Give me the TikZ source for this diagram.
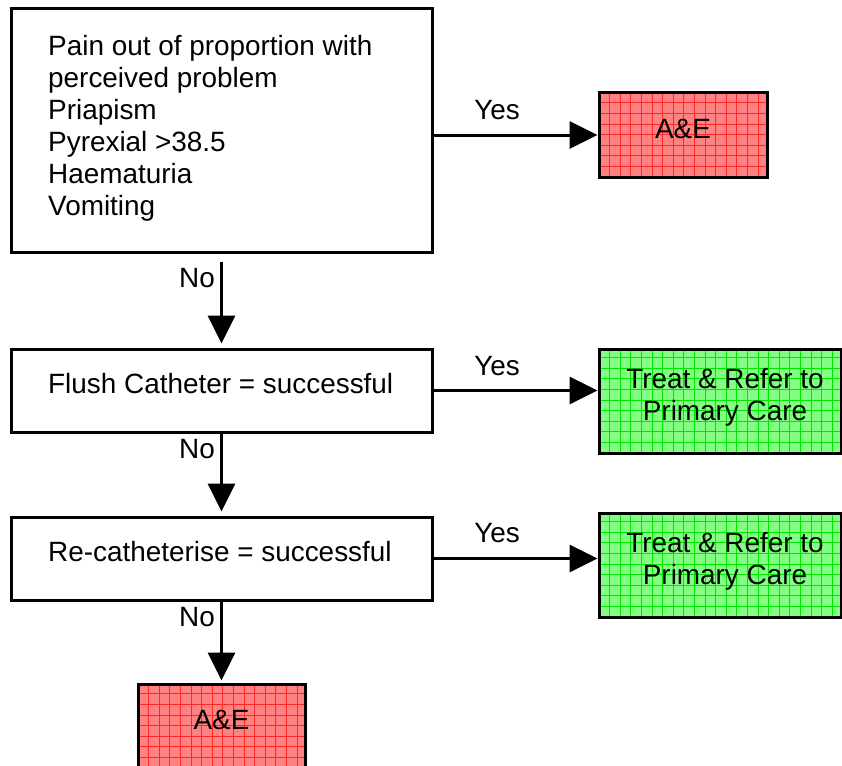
\documentclass[tikz,border=0pt]{standalone}
\usepackage{fontspec}
\setmainfont{Liberation Sans}
\usetikzlibrary{arrows.meta}
\definecolor{redfill}{RGB}{255,130,130}
\definecolor{redgrid}{RGB}{255,40,40}
\definecolor{greenfill}{RGB}{130,255,130}
\definecolor{greengrid}{RGB}{0,230,0}
\tikzset{
 txt/.style={font=\fontsize{27.9}{32}\selectfont, inner sep=0pt},
 plainbox/.style={draw, line width=3pt, rectangle, inner sep=0pt},
 gridbox/.style={plainbox, fill=#1fill, path picture={
   \foreach \k in {1,...,24}{
     \draw[#1grid, line width=0.7pt] ([xshift=\k*10.6pt]path picture bounding box.south west) -- ([xshift=\k*10.6pt]path picture bounding box.north west);
     \draw[#1grid, line width=0.7pt] ([yshift=\k*10.6pt]path picture bounding box.south west) -- ([yshift=\k*10.6pt]path picture bounding box.south east);
   }}},
 arr/.style={line width=3pt, -{Triangle[length=28pt,width=27pt]}},
}
\begin{document}
\begin{tikzpicture}[x=1pt,y=-1pt]
\useasboundingbox (0,0) rectangle (842,765);
% boxes
\node[plainbox, minimum width=421pt, minimum height=243pt] (q1) at (221.5,130.5) {};
\node[gridbox=red, minimum width=168pt, minimum height=84pt] (ae1) at (683,135) {};
\node[plainbox, minimum width=421pt, minimum height=83pt] (q2) at (221.5,390.5) {};
\node[gridbox=green, minimum width=242pt, minimum height=104pt] (g1) at (720,401) {};
\node[plainbox, minimum width=421pt, minimum height=83pt] (q3) at (221.5,558.5) {};
\node[gridbox=green, minimum width=242pt, minimum height=104pt] (g2) at (720,565) {};
\node[gridbox=red, minimum width=167pt, minimum height=84pt] (ae2) at (221.5,726) {};
% texts
\node[txt, align=left, anchor=north west] (q1t) at (48,35) {Pain out of proportion with\\perceived problem\\Priapism\\Pyrexial >38.5\\Haematuria\\Vomiting};
\node[txt, anchor=west] (q2t) at (48,384) {Flush Catheter = successful};
\node[txt, anchor=west] (q3t) at (48,552) {Re-catheterise = successful};
\node[txt] (ae1t) at (683,129) {A\&E};
\node[txt, align=center] (g1t) at (725,397) {Treat \& Refer to\\Primary Care};
\node[txt, align=center] (g2t) at (725,561) {Treat \& Refer to\\Primary Care};
\node[txt] (ae2t) at (221.5,720) {A\&E};
% connectors
\draw[arr] (ae1.west -| q1.east) -- (ae1.west);
\draw[arr] (q2.east) -- (q2.east -| g1.west);
\draw[arr] (q3.east) -- (q3.east -| g2.west);
\draw[arr, shorten <=8pt, shorten >=4pt] (q1.south) -- (q2.north);
\draw[arr, shorten >=4pt] (q2.south) -- (q3.north);
\draw[arr, shorten >=2pt] (q3.south) -- (ae2.north);
% labels
\node[txt] (y1) at (497,110) {Yes};
\node[txt] (y2) at (497,366) {Yes};
\node[txt] (y3) at (497,533) {Yes};
\node[txt] (n1) at (197,278) {No};
\node[txt] (n2) at (197,449) {No};
\node[txt] (n3) at (197,617) {No};
\end{tikzpicture}
\end{document}
